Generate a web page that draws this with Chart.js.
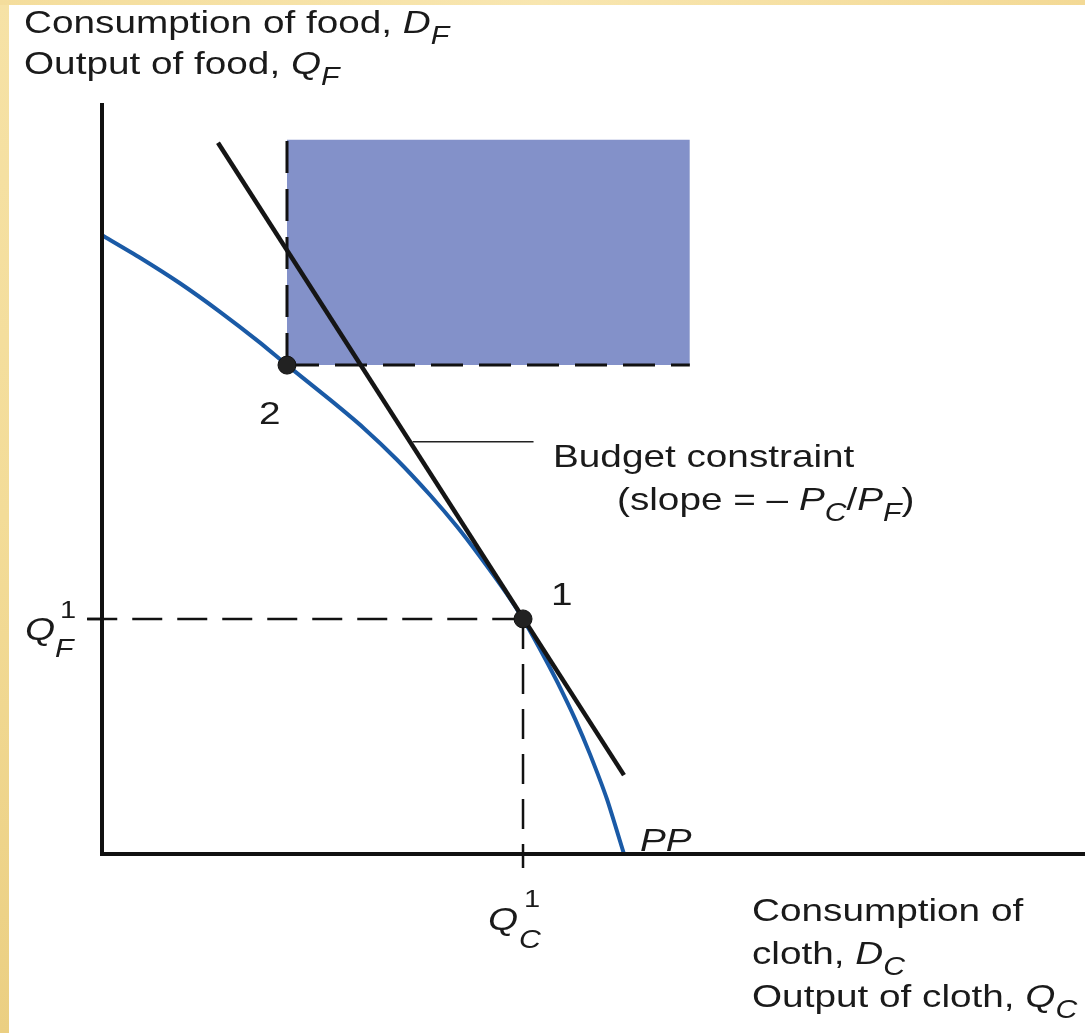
<!DOCTYPE html>
<html>
<head>
<meta charset="utf-8">
<script src="https://cdn.jsdelivr.net/npm/chart.js@4.4.1/dist/chart.umd.min.js"></script>
<style>
  html, body { margin: 0; padding: 0; background: #fff; }
  canvas { display: block; }
</style>
</head>
<body>
<canvas id="chart" width="1085" height="1033"></canvas>
<script>
// production possibility frontier PP (cloth on x, food on y)
const ppX = [0, 3.87, 7.93, 12.0, 16.07, 18.82, 23.19, 26.55, 30.01, 33.37, 36.11, 38.45, 41.2, 42.83, 44.05, 45.37, 46.59, 48.12, 49.64, 51.37, 53.1];
const ppY = [82.4, 79.4, 76.0, 72.2, 68.1, 65.1, 60.5, 56.8, 52.5, 47.8, 43.6, 39.6, 34.6, 31.3, 28.5, 25.3, 22.2, 18.0, 13.3, 7.3, 0];

// budget constraint end points
const budgetX = [11.8, 53.1];
const budgetY = [94.7, 10.5];

// point 1 (production) and point 2 (consumption)
const point1 = { x: 42.83, y: 31.3 };
const point2 = { x: 18.82, y: 65.1 };

// shaded box above/right of point 2
const boxRight = 59.8;
const boxTop = 95.1;

// label pointer for "Budget constraint"
const pointerX = [31.6, 43.9];
const pointerY = 54.9;

const xy = (xs, ys) => xs.map((x, i) => ({ x: x, y: ys[i] }));

const FONT = '"Liberation Sans", Arial, sans-serif';
const SX = 1.21; // the source text is a little wide

function rich(ctx, x, y, runs, size) {
  ctx.save();
  ctx.translate(x, y);
  ctx.scale(SX, 1);
  let cx = 0;
  runs.forEach(r => {
    let s = size, dy = 0;
    if (r.sub) { s = size * 0.78; dy = 11; }
    if (r.sup) { s = size * 0.78; dy = -17; }
    ctx.font = (r.it ? 'italic ' : '') + s + 'px ' + FONT;
    ctx.fillText(r.t, cx, dy);
    cx += ctx.measureText(r.t).width + (r.gap || 0);
  });
  ctx.restore();
}

const decor = {
  id: 'decor',
  beforeDraw(chart) {
    const ctx = chart.ctx;
    ctx.save();
    ctx.fillStyle = '#ffffff';
    ctx.fillRect(0, 0, chart.width, chart.height);
    const g = ctx.createLinearGradient(0, 0, 0, chart.height);
    g.addColorStop(0, '#f6e2a6');
    g.addColorStop(0.5, '#f3dc98');
    g.addColorStop(1, '#ebcf82');
    ctx.fillStyle = g;
    ctx.fillRect(0, 0, 9, chart.height);
    const g2 = ctx.createLinearGradient(0, 0, chart.width, 0);
    g2.addColorStop(0, '#f4dd9c');
    g2.addColorStop(0.5, '#f8e6b0');
    g2.addColorStop(1, '#f3d995');
    ctx.fillStyle = g2;
    ctx.fillRect(0, 0, chart.width, 5);
    ctx.restore();
  },
  afterDatasetsDraw(chart) {
    const ctx = chart.ctx;
    const sx = chart.scales.x, sy = chart.scales.y;
    const x0 = sx.getPixelForValue(0), y0 = sy.getPixelForValue(0);
    ctx.save();
    ctx.strokeStyle = '#111';
    ctx.lineWidth = 4;
    ctx.beginPath();
    ctx.moveTo(x0, sy.getPixelForValue(100));
    ctx.lineTo(x0, y0);
    ctx.lineTo(sx.getPixelForValue(100), y0);
    ctx.stroke();
    // small ticks at Q_F^1 and Q_C^1
    ctx.lineWidth = 2.5;
    const px1 = sx.getPixelForValue(point1.x), py1 = sy.getPixelForValue(point1.y);
    ctx.beginPath();
    ctx.moveTo(x0 - 15, py1); ctx.lineTo(x0, py1);
    ctx.moveTo(px1, y0); ctx.lineTo(px1, y0 + 14);
    ctx.stroke();
    ctx.restore();
  },
  afterDraw(chart) {
    const ctx = chart.ctx;
    ctx.save();
    ctx.fillStyle = '#1a1a1a';
    ctx.textBaseline = 'alphabetic';
    rich(ctx, 24, 33, [{ t: 'Consumption of food, ' }, { t: 'D', it: true }, { t: 'F', it: true, sub: true }], 32);
    rich(ctx, 24, 74, [{ t: 'Output of food, ' }, { t: 'Q', it: true }, { t: 'F', it: true, sub: true }], 32);
    rich(ctx, 259, 424, [{ t: '2' }], 32);
    rich(ctx, 551, 605, [{ t: '1' }], 32);
    rich(ctx, 553, 467, [{ t: 'Budget constraint' }], 32);
    rich(ctx, 617, 510, [{ t: '(slope = \u2013 ' }, { t: 'P', it: true }, { t: 'C', it: true, sub: true }, { t: '/' }, { t: 'P', it: true }, { t: 'F', it: true, sub: true }, { t: ')' }], 32);
    // Q_F^1
    rich(ctx, 25, 640, [{ t: 'Q', it: true }], 32);
    rich(ctx, 60, 618, [{ t: '1' }], 24);
    rich(ctx, 55, 657, [{ t: 'F', it: true }], 25);
    // Q_C^1
    rich(ctx, 488, 930, [{ t: 'Q', it: true }], 32);
    rich(ctx, 524, 907, [{ t: '1' }], 24);
    rich(ctx, 519, 948, [{ t: 'C', it: true }], 25);
    rich(ctx, 640, 851, [{ t: 'PP', it: true }], 32);
    rich(ctx, 752, 921, [{ t: 'Consumption of' }], 32);
    rich(ctx, 752, 964, [{ t: 'cloth, ' }, { t: 'D', it: true }, { t: 'C', it: true, sub: true }], 32);
    rich(ctx, 752, 1007, [{ t: 'Output of cloth, ' }, { t: 'Q', it: true }, { t: 'C', it: true, sub: true }], 32);
    ctx.restore();
  }
};

const dash = [32, 16];

new Chart(document.getElementById('chart'), {
  type: 'scatter',
  data: {
    datasets: [
      {
        label: 'box',
        data: [{ x: point2.x, y: boxTop }, { x: boxRight, y: boxTop }],
        showLine: true,
        borderWidth: 0,
        pointRadius: 0,
        backgroundColor: '#8391c9',
        fill: { value: point2.y },
        order: 10
      },
      {
        label: 'box vertical',
        data: [{ x: point2.x, y: point2.y }, { x: point2.x, y: boxTop }],
        showLine: true, borderColor: '#111', borderWidth: 3, borderDash: dash, pointRadius: 0, order: 5
      },
      {
        label: 'box horizontal',
        data: [{ x: point2.x, y: point2.y }, { x: boxRight, y: point2.y }],
        showLine: true, borderColor: '#111', borderWidth: 3, borderDash: dash, pointRadius: 0, order: 5
      },
      {
        label: 'Q_F guide',
        data: [{ x: -1.5, y: point1.y }, { x: point1.x, y: point1.y }],
        showLine: true, borderColor: '#111', borderWidth: 2.5, borderDash: [30, 15], pointRadius: 0, clip: false, order: 5
      },
      {
        label: 'Q_C guide',
        data: [{ x: point1.x, y: point1.y }, { x: point1.x, y: 0 }],
        showLine: true, borderColor: '#111', borderWidth: 2.5, borderDash: [30, 15], pointRadius: 0, clip: false, order: 5
      },
      {
        label: 'PP',
        data: xy(ppX, ppY),
        showLine: true, borderColor: '#1a5aa6', borderWidth: 4, pointRadius: 0,
        tension: 0.2, clip: false, order: 3
      },
      {
        label: 'Budget constraint',
        data: xy(budgetX, budgetY),
        showLine: true, borderColor: '#151515', borderWidth: 4.5, pointRadius: 0, order: 2
      },
      {
        label: 'pointer',
        data: pointerX.map(x => ({ x: x, y: pointerY })),
        showLine: true, borderColor: '#222', borderWidth: 1.5, pointRadius: 0, order: 2
      },
      {
        label: 'points',
        data: [point2, point1],
        showLine: false, pointRadius: 9, pointBackgroundColor: '#222', pointBorderColor: '#111', pointBorderWidth: 1, order: 1
      }
    ]
  },
  options: {
    responsive: false,
    animation: false,
    devicePixelRatio: 1,
    layout: { autoPadding: false, padding: { left: 102, right: 0, top: 103, bottom: 179 } },
    plugins: { legend: { display: false }, tooltip: { enabled: false } },
    scales: {
      x: { type: 'linear', min: 0, max: 100, display: false },
      y: { type: 'linear', min: 0, max: 100, display: false }
    }
  },
  plugins: [decor]
});
</script>
</body>
</html>
